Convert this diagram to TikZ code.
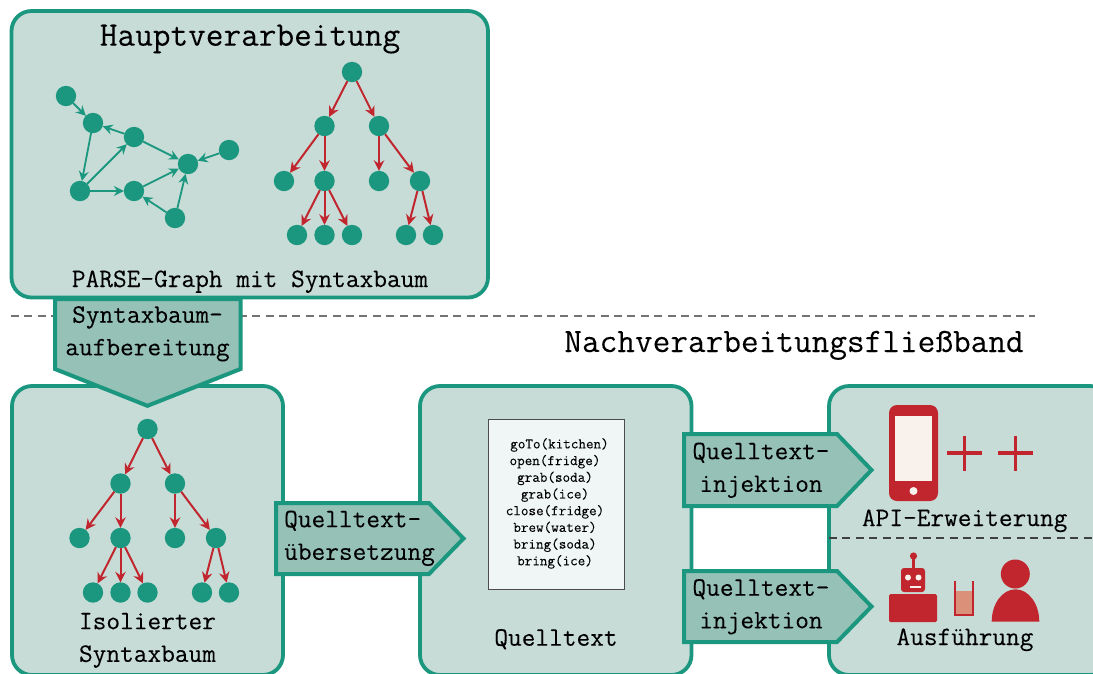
\documentclass[tikz,border=0pt]{standalone}
\usepackage{fontspec}
\setmonofont{Latin Modern Mono}[FakeBold=0.1]
\usetikzlibrary{arrows.meta}
\definecolor{boxfill}{HTML}{C7DCD7}
\definecolor{teal}{HTML}{1C977F}
\definecolor{arrowfill}{HTML}{96C1B6}
\definecolor{redx}{HTML}{C1262F}
\definecolor{paper}{HTML}{F8F1EC}
\definecolor{codebg}{HTML}{F0F6F6}
\definecolor{drink}{HTML}{DB9079}
\newcommand{\fsL}{\fontsize{34.3}{42}\selectfont\ttfamily}
\newcommand{\fsM}{\fontsize{26.6}{32.6}\selectfont\ttfamily}
\newcommand{\fsS}{\fontsize{14.7}{16.7}\selectfont\ttfamily}
\tikzset{
  x=1pt,y=-1pt,
  panel/.style={draw=teal,fill=boxfill,line width=3.8pt,rounded corners=20pt},
  pent/.style={draw=teal,fill=arrowfill,line width=4pt,miter limit=10},
  dot/.style={circle,fill=teal,minimum size=20.4pt,inner sep=0pt,outer sep=0pt},
  gedge/.style={draw=teal,line width=1.8pt,-{Stealth[length=10pt,width=10pt,inset=3.5pt]}},
  redge/.style={draw=redx,line width=2pt,-{Stealth[length=10.5pt,width=10.5pt,inset=3.5pt]}},
  big/.style={font=\fsL,anchor=base,inner sep=0pt},
  mid/.style={font=\fsM,anchor=base,inner sep=0pt},
  two/.style={font=\fsM,align=center,inner sep=0pt,anchor=center},
  twoleft/.style={font=\fsM,align=left,inner sep=0pt,anchor=west},
  icon/.style={fill=redx,draw=none},
  light/.style={fill=paper,draw=none},
  plusbar/.style={draw=redx,line width=3.6pt},
}
\begin{document}
\begin{tikzpicture}
\useasboundingbox (0,0) rectangle (1093,673);
% panels
\draw[panel] (11.5,11) rectangle (488,297.5);
\draw[gray!90!black,line width=1.2pt,dash pattern=on 8pt off 5.4pt] (11,316) -- (1035,316);
\draw[panel] (12,386) rectangle (283,675);
\draw[panel] (420,386) rectangle (691.5,675);
\draw[panel] (829,386) rectangle (1110,675);
\draw[black!75,line width=1.2pt,dash pattern=on 8pt off 5.4pt] (829,538) -- (1093,538);

% titles
\node[big] (ttop) at (250,45.7) {Hauptverarbeitung};
\node[mid] (tparse) at (250,287) {PARSE-Graph mit Syntaxbaum};
\node[big] (tpost) at (794,352) {Nachverarbeitungsflie\ss band};

% graph
\node[dot] (g1) at (66,96) {};
\node[dot] (g2) at (93,123) {};
\node[dot] (g3) at (134,137) {};
\node[dot] (g4) at (80,191) {};
\node[dot] (g5) at (134,191) {};
\node[dot] (g6) at (188,164) {};
\node[dot] (g7) at (229,150) {};
\node[dot] (g8) at (175,218) {};
\foreach \a/\b in {g1/g2,g3/g2,g2/g4,g4/g3,g4/g5,g3/g6,g5/g6,g7/g6,g8/g5,g8/g6}
  \draw[gedge] (\a) -- (\b);

% upper tree
\node[dot] (a0) at (352,72) {};
\node[dot] (a1) at (324.5,126) {};
\node[dot] (a2) at (379,126) {};
\node[dot] (a3) at (284,181) {};
\node[dot] (a4) at (324.5,181) {};
\node[dot] (a5) at (379,181) {};
\node[dot] (a6) at (420,181) {};
\node[dot] (a7) at (297,235) {};
\node[dot] (a8) at (324.5,235) {};
\node[dot] (a9) at (352,235) {};
\node[dot] (a10) at (406,235) {};
\node[dot] (a11) at (433,235) {};
\foreach \a/\b in {a0/a1,a0/a2,a1/a3,a1/a4,a2/a5,a2/a6,a4/a7,a4/a8,a4/a9,a6/a10,a6/a11}
  \draw[redge] (\a) -- (\b);

% lower tree
\node[dot] (b0) at (147.5,429) {};
\node[dot] (b1) at (120.5,483.5) {};
\node[dot] (b2) at (175,483.5) {};
\node[dot] (b3) at (79.5,538) {};
\node[dot] (b4) at (120.5,538) {};
\node[dot] (b5) at (175,538) {};
\node[dot] (b6) at (216,538) {};
\node[dot] (b7) at (93,592.5) {};
\node[dot] (b8) at (120.5,592.5) {};
\node[dot] (b9) at (147.5,592.5) {};
\node[dot] (b10) at (202,592.5) {};
\node[dot] (b11) at (229,592.5) {};
\foreach \a/\b in {b0/b1,b0/b2,b1/b3,b1/b4,b2/b5,b2/b6,b4/b7,b4/b8,b4/b9,b6/b10,b6/b11}
  \draw[redge] (\a) -- (\b);
\node[two] (tiso) at (147.5,639) {\strut Isolierter\\\strut Syntaxbaum};

% code
\node[draw=black!70,fill=codebg,line width=1pt,minimum width=136pt,minimum height=170pt,inner sep=0pt,outer sep=0pt] (code) at (556,504) {};
\node[font=\fsS,align=center,inner sep=0pt,anchor=center] (codetext) at (555,503.5) {\strut\hspace*{9pt}goTo(kitchen)\\\strut open(fridge)\\\strut grab(soda)\\\strut grab(ice)\\\strut close(fridge)\\\strut brew(water)\\\strut bring(soda)\\\strut bring(ice)};
\node[mid] (tsrc) at (556,645.7) {Quelltext};

% pentagons
\draw[pent] (55,299) -- (240.5,299) -- (240.5,369) -- (147.5,405.8) -- (55,369) -- cycle;
\node[two] (tsyn) at (147.5,332.5) {\strut Syntaxbaum-\\\strut aufbereitung};
\draw[pent] (276,503) -- (429,503) -- (463.5,538.5) -- (429,574) -- (276,574) -- cycle;
\node[twoleft] (tue) at (284,537) {\strut Quelltext-\\\strut \"ubersetzung};
\draw[pent] (684,434) -- (837,434) -- (871.5,470) -- (837,506) -- (684,506) -- cycle;
\node[two] (tinj1) at (761,469) {\strut Quelltext-\\\strut injektion};
\draw[pent] (684,571) -- (837,571) -- (871.5,606.5) -- (837,642) -- (684,642) -- cycle;
\node[two] (tinj2) at (761,605.5) {\strut Quelltext-\\\strut injektion};

% phone
\fill[icon,rounded corners=8pt] (889,405) rectangle (938,501);
\fill[light] (895,416) rectangle (932,481);
\fill[light] (913.5,491) circle (4);
\draw[plusbar] (947,453) -- (982,453) (964.5,435.5) -- (964.5,470.5);
\draw[plusbar] (998,453) -- (1033,453) (1015.5,435.5) -- (1015.5,470.5);
\node[mid] (tapi) at (964.7,526) {API-Erweiterung};

% robot
\fill[icon] (913.5,556) circle (3.6);
\fill[icon] (912.4,556) rectangle (914.6,570);
\fill[icon,rounded corners=3pt] (901,568) rectangle (925,592);
\fill[light] (908,577.5) circle (3);
\fill[light] (918.5,577.5) circle (3);
\fill[light] (909.5,585.5) rectangle (921,587.5);
\fill[icon,rounded corners=1.5pt] (889,594) rectangle (937,622);
% glass
\fill[drink] (955,591) rectangle (974,615.5);
\draw[redx,line width=2pt] (955.3,580.7) -- (955.3,615.3) -- (973.3,615.3) -- (973.3,580.7);
% person
\fill[icon] (1015.3,574) circle (14.5);
\fill[icon] (991.7,621.7) arc[start angle=180,end angle=0,x radius=23.8pt,y radius=32.4pt] -- cycle;
\node[mid] (texec) at (965,645) {Ausf\"uhrung};
\end{tikzpicture}
\end{document}
